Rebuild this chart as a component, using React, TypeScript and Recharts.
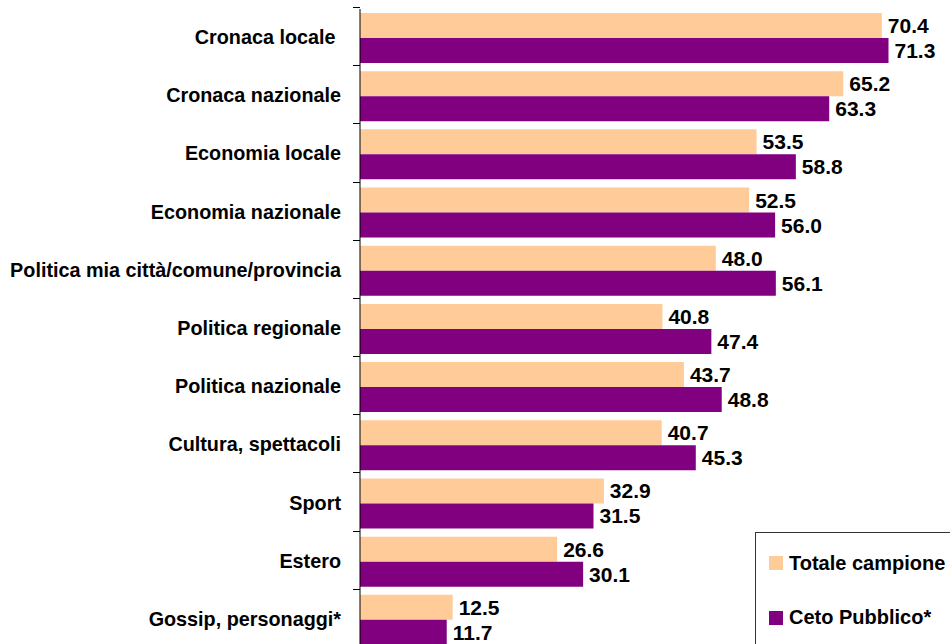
import React from 'react';
import { BarChart, Bar, XAxis, YAxis, LabelList } from 'recharts';

const categories = [
  'Cronaca locale\u00a0',
  'Cronaca nazionale',
  'Economia locale',
  'Economia nazionale',
  'Politica mia città/comune/provincia',
  'Politica regionale',
  'Politica nazionale',
  'Cultura, spettacoli',
  'Sport',
  'Estero',
  'Gossip, personaggi*',
];
const totaleCampione = [70.4, 65.2, 53.5, 52.5, 48.0, 40.8, 43.7, 40.7, 32.9, 26.6, 12.5];
const cetoPubblico = [71.3, 63.3, 58.8, 56.0, 56.1, 47.4, 48.8, 45.3, 31.5, 30.1, 11.7];
const seriesNames = ['Totale campione', 'Ceto Pubblico*'];
const seriesColors = ['#FFCC99', '#800080'];
const xDomain = [0, 80];

const data = categories.map((name, i) => ({
  name,
  totale: totaleCampione[i],
  ceto: cetoPubblico[i],
}));

const FONT = '"Liberation Sans", Arial, Helvetica, sans-serif';
const AXIS_X = 360;

const CategoryTick = (props: any) => {
  const { y, payload } = props;
  const half = payload && typeof payload.offset === 'number' && payload.offset > 0 ? payload.offset : 29.1;
  const by = Math.round(y - half - 2) + 0.5;
  return (
    <g>
      <line x1={AXIS_X - 7} x2={AXIS_X} y1={by} y2={by} stroke="#000" strokeWidth={1} />
      <text
        x={341}
        y={y - 1}
        dy="0.355em"
        textAnchor="end"
        fontFamily={FONT}
        fontWeight="bold"
        fontSize={19.8}
        fill="#000"
      >
        {payload.value}
      </text>
    </g>
  );
};

const fmt = (v: any) => Number(v).toFixed(1);

export default function App() {
  return (
    <div
      style={{
        position: 'absolute',
        left: 0,
        top: 0,
        width: 950,
        height: 644,
        overflow: 'hidden',
        background: '#fff',
        fontFamily: FONT,
      }}
    >
      <BarChart
        width={960}
        height={650}
        data={data}
        layout="vertical"
        margin={{ top: 9, right: 7, bottom: 1, left: 0 }}
        barGap={0}
        barSize={25}
      >
        <XAxis type="number" domain={xDomain} hide />
        <YAxis
          type="category"
          dataKey="name"
          width={360}
          interval={0}
          axisLine={{ stroke: '#000', strokeWidth: 1 }}
          tickLine={false}
          tick={<CategoryTick />}
        />
        <Bar dataKey="totale" name={seriesNames[0]} fill={seriesColors[0]} isAnimationActive={false}>
          <LabelList
            dataKey="totale"
            position="right"
            offset={6}
            formatter={fmt}
            style={{ fontFamily: FONT, fontWeight: 'bold', fontSize: 21, fill: '#000' }}
          />
        </Bar>
        <Bar dataKey="ceto" name={seriesNames[1]} fill={seriesColors[1]} isAnimationActive={false}>
          <LabelList
            dataKey="ceto"
            position="right"
            offset={6}
            formatter={fmt}
            style={{ fontFamily: FONT, fontWeight: 'bold', fontSize: 21, fill: '#000' }}
          />
        </Bar>
      </BarChart>
      <div
        style={{
          position: 'absolute',
          left: 755,
          top: 532,
          width: 260,
          height: 160,
          border: '1.5px solid #333',
          background: '#fff',
          boxSizing: 'border-box',
        }}
      >
        {seriesNames.map((n, i) => (
          <div
            key={n}
            style={{
              position: 'absolute',
              left: 13,
              top: 22 + i * 54.5,
              display: 'flex',
              alignItems: 'center',
              height: 16,
            }}
          >
            <div style={{ width: 14, height: 14, background: seriesColors[i], marginRight: 6 }} />
            <span style={{ fontFamily: FONT, fontWeight: 'bold', fontSize: 20, color: '#000', whiteSpace: 'nowrap' }}>
              {n}
            </span>
          </div>
        ))}
      </div>
    </div>
  );
}
